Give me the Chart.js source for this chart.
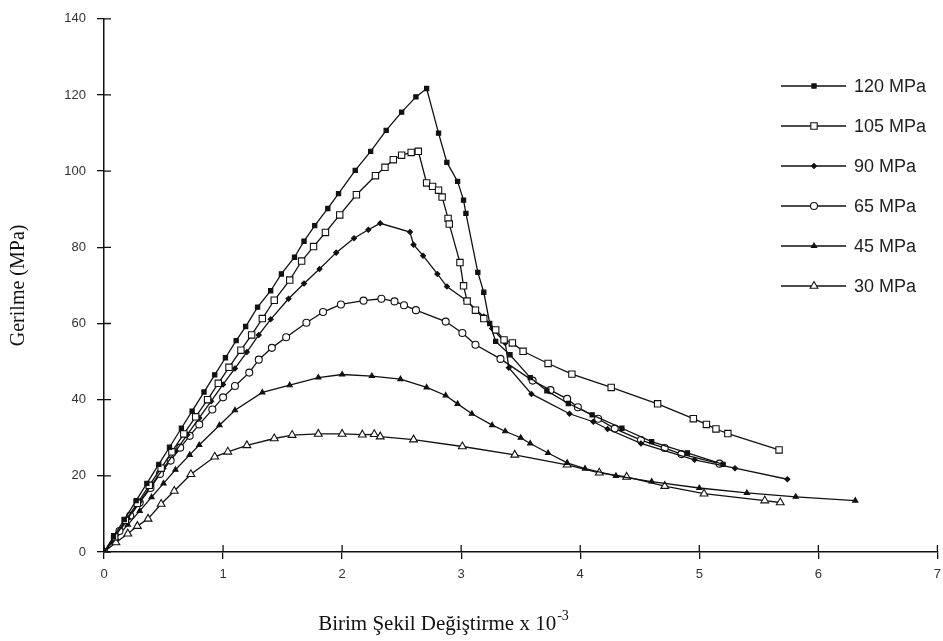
<!DOCTYPE html>
<html>
<head>
<meta charset="utf-8">
<script src="https://cdn.jsdelivr.net/npm/chart.js@4.4.1/dist/chart.umd.min.js"></script>
<style>
  html, body { margin: 0; padding: 0; background: #fff; }
  #wrap { width: 943px; height: 641px; }
</style>
</head>
<body>
<div id="wrap"><canvas id="stressChart" width="943" height="641"></canvas></div>
<script>
// Strain (x 10^-3) and stress (MPa)
const strain120 = [0, 0.08, 0.17, 0.27, 0.36, 0.46, 0.55, 0.65, 0.74, 0.84, 0.93, 1.02, 1.11, 1.19, 1.29, 1.40, 1.49, 1.60, 1.68, 1.77, 1.88, 1.97, 2.11, 2.24, 2.37, 2.50, 2.62, 2.71, 2.81, 2.88, 2.97, 3.02, 3.04, 3.14, 3.19, 3.24, 3.29, 3.41, 3.58, 3.72, 3.90, 4.10, 4.35, 4.60, 4.90, 5.20];
const stress120 = [0, 4, 8.5, 13.5, 18, 23, 27.5, 32.5, 37, 42, 46.5, 51, 55.5, 59.2, 64.3, 68.6, 73, 77.4, 81.6, 85.7, 90.2, 94.1, 100.2, 105.2, 110.7, 115.5, 119.5, 121.7, 110, 102.3, 97.3, 92.4, 88.9, 73.4, 68.2, 60, 55.3, 51.8, 45.8, 42.3, 39, 36, 32.5, 29, 26, 23];

const strain105 = [0, 0.09, 0.18, 0.28, 0.38, 0.48, 0.57, 0.67, 0.77, 0.87, 0.96, 1.05, 1.15, 1.24, 1.33, 1.43, 1.56, 1.66, 1.76, 1.86, 1.98, 2.12, 2.28, 2.36, 2.43, 2.50, 2.58, 2.64, 2.71, 2.76, 2.81, 2.84, 2.89, 2.90, 2.99, 3.02, 3.05, 3.12, 3.19, 3.29, 3.36, 3.43, 3.52, 3.73, 3.93, 4.26, 4.65, 4.95, 5.06, 5.14, 5.24, 5.67];
const stress105 = [0, 4, 8.3, 12.8, 17.5, 22, 26.3, 31, 35.5, 40, 44.3, 48.5, 53, 57, 61.3, 66.1, 71.4, 76.4, 80.2, 83.9, 88.5, 93.8, 98.8, 101, 103, 104.2, 104.9, 105.2, 96.9, 96, 95, 93.2, 87.6, 86.1, 76, 69.9, 65.9, 63.5, 61.3, 58.3, 55.7, 54.9, 52.7, 49.5, 46.7, 43.2, 38.9, 35, 33.5, 32.3, 31.1, 26.8];

const strain90 = [0, 0.1, 0.2, 0.3, 0.4, 0.5, 0.6, 0.7, 0.8, 0.9, 1.0, 1.1, 1.2, 1.3, 1.40, 1.55, 1.68, 1.81, 1.95, 2.10, 2.22, 2.32, 2.57, 2.60, 2.68, 2.80, 2.88, 3.04, 3.19, 3.26, 3.37, 3.40, 3.59, 3.91, 4.11, 4.23, 4.51, 4.96, 5.30, 5.74];
const stress90 = [0, 4.4, 8.8, 13.2, 17.6, 22, 26.4, 30.8, 35.2, 39.6, 44, 48.2, 52.5, 57, 61.1, 66.5, 70.5, 74.3, 78.6, 82.4, 84.6, 86.3, 84, 80.7, 77.8, 73, 69.7, 66.1, 61.8, 58.7, 54.9, 48.4, 41.5, 36.3, 34.2, 32.3, 28.5, 24.2, 22, 19.1];

const strain65 = [0, 0.13, 0.22, 0.30, 0.39, 0.47, 0.56, 0.64, 0.72, 0.80, 0.91, 1.00, 1.10, 1.22, 1.30, 1.41, 1.53, 1.70, 1.84, 1.99, 2.18, 2.33, 2.44, 2.52, 2.62, 2.87, 3.01, 3.12, 3.33, 3.60, 3.75, 3.89, 3.98, 4.15, 4.29, 4.51, 4.71, 4.85, 5.17];
const stress65 = [0, 5.5, 9.5, 13, 16.8, 20.5, 24, 27.4, 30.5, 33.5, 37.4, 40.6, 43.6, 47.1, 50.5, 53.6, 56.4, 60.2, 63, 65, 66, 66.5, 65.8, 64.8, 63.5, 60.5, 57.5, 54.4, 50.7, 45, 42.5, 40.2, 38, 35, 32.4, 29.4, 27.3, 25.7, 23.2];

const strain45 = [0, 0.1, 0.2, 0.3, 0.4, 0.5, 0.6, 0.72, 0.80, 0.97, 1.10, 1.33, 1.56, 1.80, 2.00, 2.25, 2.49, 2.71, 2.87, 2.97, 3.09, 3.26, 3.37, 3.50, 3.58, 3.73, 3.89, 4.04, 4.30, 4.60, 5.00, 5.40, 5.81, 6.31];
const stress45 = [0, 3.6, 7.2, 10.8, 14.4, 18, 21.6, 25.5, 28.1, 33.3, 37.2, 41.9, 43.8, 45.8, 46.6, 46.2, 45.4, 43.2, 41.1, 38.9, 36.3, 33.3, 31.7, 30, 28.5, 26, 23.4, 21.9, 20, 18.5, 16.8, 15.5, 14.5, 13.5];

const strain30 = [0, 0.1, 0.2, 0.28, 0.37, 0.48, 0.59, 0.73, 0.93, 1.04, 1.20, 1.43, 1.58, 1.80, 2.00, 2.17, 2.27, 2.32, 2.60, 3.01, 3.45, 3.89, 4.16, 4.39, 4.71, 5.04, 5.55, 5.68];
const stress30 = [0, 2.5, 4.8, 6.8, 8.7, 12.6, 16, 20.4, 25, 26.3, 28, 29.8, 30.7, 31, 31, 30.8, 30.9, 30.3, 29.5, 27.7, 25.5, 22.9, 20.8, 19.7, 17.3, 15.3, 13.5, 13];

const seriesLabels = ['120 MPa', '105 MPa', '90 MPa', '65 MPa', '45 MPa', '30 MPa'];
const yTicks = [0, 20, 40, 60, 80, 100, 120, 140];
const xTicks = [0, 1, 2, 3, 4, 5, 6, 7];

const ink = '#111';

function pairs(xs, ys) {
    return xs.map((x, i) => ({ x: x, y: ys[i] }));
}

const markers = [
    { pointStyle: 'rect', radius: 3, fill: ink },
    { pointStyle: 'rect', radius: 4.5, fill: '#fff' },
    { pointStyle: 'rectRot', radius: 2.5, fill: ink },
    { pointStyle: 'circle', radius: 3.5, fill: '#fff' },
    { pointStyle: 'triangle', radius: 3, fill: ink },
    { pointStyle: 'triangle', radius: 4.5, fill: '#fff' }
];

const allData = [
    pairs(strain120, stress120),
    pairs(strain105, stress105),
    pairs(strain90, stress90),
    pairs(strain65, stress65),
    pairs(strain45, stress45),
    pairs(strain30, stress30)
];

const datasets = allData.map((d, i) => ({
    label: seriesLabels[i],
    data: d,
    borderColor: ink,
    borderWidth: 1.3,
    tension: 0,
    pointStyle: markers[i].pointStyle,
    pointRadius: markers[i].radius,
    pointBackgroundColor: markers[i].fill,
    pointBorderColor: ink,
    pointBorderWidth: 1.1
}));

// ticks that cross the axis lines, like the scanned figure
const innerTicks = {
    id: 'innerTicks',
    afterDraw(chart) {
        const ctx = chart.ctx;
        const xs = chart.scales.x, ys = chart.scales.y;
        const left = chart.chartArea.left, bottom = chart.chartArea.bottom;
        ctx.save();
        ctx.strokeStyle = ink;
        ctx.lineWidth = 1.3;
        ctx.beginPath();
        yTicks.forEach(v => {
            const py = ys.getPixelForValue(v);
            ctx.moveTo(left, py);
            ctx.lineTo(left + 7, py);
        });
        xTicks.forEach(v => {
            const px = xs.getPixelForValue(v);
            ctx.moveTo(px, bottom);
            ctx.lineTo(px, bottom - 7);
        });
        ctx.stroke();
        ctx.restore();
    }
};

// legend on the right side with line + marker
const sideLegend = {
    id: 'sideLegend',
    afterDraw(chart) {
        const ctx = chart.ctx;
        ctx.save();
        seriesLabels.forEach((lab, i) => {
            const y = 86 + i * 40;
            ctx.strokeStyle = ink;
            ctx.lineWidth = 1.4;
            ctx.beginPath();
            ctx.moveTo(781, y);
            ctx.lineTo(846, y);
            ctx.stroke();
            ctx.fillStyle = markers[i].fill;
            ctx.strokeStyle = ink;
            ctx.lineWidth = 1.1;
            Chart.helpers.drawPoint(ctx, {
                pointStyle: markers[i].pointStyle,
                radius: markers[i].radius,
                rotation: 0,
                borderWidth: 1.1
            }, 814, y);
            ctx.fillStyle = '#222';
            ctx.font = '18px "Liberation Sans", Arial, sans-serif';
            ctx.textBaseline = 'middle';
            ctx.textAlign = 'left';
            ctx.fillText(lab, 854, y + 1);
        });

        // x axis title with superscript exponent
        ctx.fillStyle = '#111';
        ctx.textBaseline = 'alphabetic';
        ctx.font = '21px "Liberation Serif", "Times New Roman", serif';
        const main = 'Birim Şekil Değiştirme x 10';
        const sup = '-3';
        const w1 = ctx.measureText(main).width;
        ctx.font = '14px "Liberation Serif", "Times New Roman", serif';
        const w2 = ctx.measureText(sup).width;
        const startX = 443 - (w1 + w2) / 2;
        ctx.font = '21px "Liberation Serif", "Times New Roman", serif';
        ctx.fillText(main, startX, 630);
        ctx.font = '14px "Liberation Serif", "Times New Roman", serif';
        ctx.fillText(sup, startX + w1 + 1, 620);
        ctx.restore();
    }
};

window.onload = function() {
    const canvas = document.getElementById('stressChart');
    new Chart(canvas, {
        type: 'line',
        data: { datasets: datasets },
        options: {
            responsive: false,
            animation: false,
            layout: { padding: { top: 11, right: 2, left: 0, bottom: 0 } },
            plugins: {
                legend: { display: false },
                tooltip: { enabled: false }
            },
            scales: {
                x: {
                    type: 'linear',
                    min: 0,
                    max: 7,
                    afterBuildTicks: s => { s.ticks = xTicks.map(v => ({ value: v })); },
                    afterFit: s => { s.height = 89; s.paddingRight = 0; s.paddingLeft = 0; },
                    grid: { drawOnChartArea: false, color: ink, tickLength: 7, lineWidth: 1.3 },
                    border: { color: ink, width: 1.5 },
                    ticks: {
                        padding: 8,
                        color: '#333',
                        font: { family: '"Liberation Sans", Arial, sans-serif', size: 13 }
                    }
                },
                y: {
                    min: 0,
                    max: 140,
                    afterBuildTicks: s => { s.ticks = yTicks.map(v => ({ value: v })); },
                    afterFit: s => { s.width = 104; },
                    grid: { drawOnChartArea: false, color: ink, tickLength: 7, lineWidth: 1.3 },
                    border: { color: ink, width: 1.5 },
                    ticks: {
                        padding: 11,
                        color: '#333',
                        font: { family: '"Liberation Sans", Arial, sans-serif', size: 13 }
                    },
                    title: {
                        display: true,
                        text: 'Gerilme (MPa)',
                        color: '#111',
                        padding: { top: 7, bottom: 10 },
                        font: { family: '"Liberation Serif", "Times New Roman", serif', size: 20 }
                    }
                }
            }
        },
        plugins: [innerTicks, sideLegend]
    });
};
</script>
</body>
</html>
